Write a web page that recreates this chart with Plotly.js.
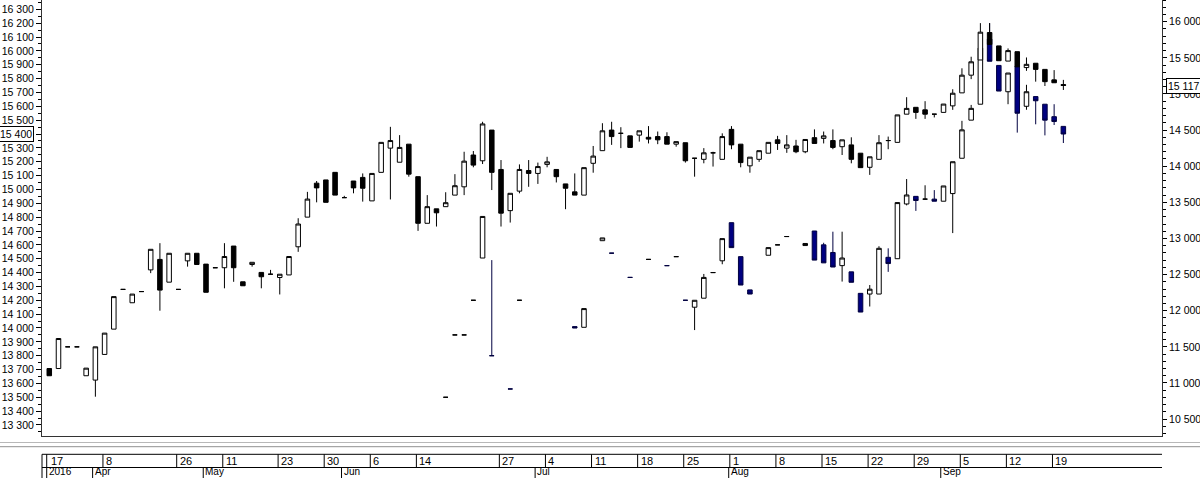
<!DOCTYPE html>
<html><head><meta charset="utf-8">
<script src="https://cdn.plot.ly/plotly-3.0.1.min.js"></script>
<style>html,body{margin:0;padding:0;background:#fff}#chart{width:1200px;height:478px}</style>
</head><body><div id="chart"></div>
<script>
// Series A (black down-candles) -> right axis; one entry per trading-day slot 0..110
const aOpen  = [11200,11200,11500,11500,11100,11040,11395,11745,12295,12110,12265,12565,12710,12395,12295,12690,12795,12645,12595,12595,12895,12400,12640,12530,12505,12460,12495,12885,13295,13765,13810,13915,13565,13795,13845,13520,13915,14250,14055,14305,13855,13210,13410,13440,13600,13715,14155,14075,14500,13955,13385,13655,13940,13900,14025,13955,13755,13645,13600,14040,14215,14500,14455,14420,14430,14400,14410,14410,14305,14325,14110,14095,14185,14095,14510,14305,14005,14095,14180,14365,14250,14280,14200,14395,14385,14355,14270,14295,14180,13985,14095,14355,14330,14720,14815,14780,14720,14745,14835,15015,15260,15470,15850,15665,15455,15585,15365,15425,15340,15195,15130];
const aHigh  = [11200,11615,11500,11500,11205,11500,11690,12195,12295,12230,12265,12850,12935,12795,12295,12795,12795,12645,12595,12935,12895,12400,12670,12530,12565,12505,12750,13280,13645,13795,13810,13915,13590,13795,13900,13900,14330,14545,14430,14305,13855,13600,13410,13640,13890,14200,14210,14615,14500,14085,13625,14025,14085,14050,14130,13955,13755,13900,13980,14280,14595,14615,14540,14420,14490,14555,14480,14470,14340,14325,14110,14250,14200,14455,14555,14305,14125,14215,14330,14420,14430,14365,14370,14510,14480,14510,14365,14400,14180,14130,14430,14410,14710,14955,14815,14900,14720,14860,15065,15355,15515,15980,15980,15665,15630,15585,15505,15425,15340,15330,15195];
const aLow   = [11100,11200,11500,11500,11100,10810,11395,11745,12295,12110,12265,12520,12000,12395,12295,12610,12640,12255,12595,12310,12400,12345,12610,12310,12505,12225,12495,12815,13295,13500,13500,13600,13565,13625,13510,13520,13915,13540,14055,13855,13105,13210,13165,13440,13600,13600,13985,14030,13670,13165,13220,13625,13715,13755,13985,13775,13405,13600,13600,13910,14215,14295,14250,14260,14340,14315,14305,14305,14270,14050,13855,14040,13995,14095,14235,13985,13910,14060,14180,14225,14185,14180,14180,14315,14315,14235,14155,14040,13980,13880,14095,14235,14330,14720,14655,14655,14675,14745,14780,15015,15205,15470,15685,15460,15455,15375,15320,15170,15110,15155,15055];
const aClose = [11100,11615,11500,11500,11205,11500,11690,12195,12295,12230,12265,12850,12285,12795,12295,12795,12640,12255,12595,12750,12595,12345,12670,12470,12505,12505,12750,13200,13545,13700,13500,13600,13565,13700,13695,13900,14330,14355,14260,13890,13210,13440,13355,13495,13730,14070,14015,14585,13915,13350,13625,13955,13900,13995,14060,13855,13695,13600,13980,14140,14490,14410,14455,14260,14490,14375,14365,14305,14340,14075,14110,14185,14185,14410,14295,14050,14125,14215,14330,14315,14295,14200,14370,14315,14420,14260,14365,14095,13980,14130,14325,14355,14710,14800,14745,14720,14720,14860,15010,15260,15445,15855,15685,15460,15600,15375,15410,15340,15170,15155,15117];

// Series B (navy down-candles) -> left axis; null = no trade that day
const N = null;
const bOpen  = [N,N,N,N,N,N,N,N,N,N,N,N,N,N,N,N,N,N,N,N,N,N,N,N,N,N,N,N,N,N,N,N,N,N,N,N,N,N,N,N,N,N,N,13500,13950,13950,14200,14505,13800,N,13560,14200,N,N,N,N,N,14010,14005,N,14630,14540,N,14365,N,14495,N,14450,14515,14200,14150,14215,14400,14485,14760,14515,14275,N,14525,14600,14660,N,14595,14700,14600,14545,14450,14405,14250,14245,14245,14510,14500,14895,14950,14930,14930,14915,14970,15225,15500,15615,16085,15895,15705,15890,15600,15670,15615,15525,15455];
const bHigh  = [N,N,N,N,N,N,N,N,N,N,N,N,N,N,N,N,N,N,N,N,N,N,N,N,N,N,N,N,N,N,N,N,N,N,N,N,N,N,N,N,N,N,N,13500,13950,13950,14200,14805,14490,N,13560,14200,N,N,N,N,N,14010,14140,N,14650,14540,N,14365,N,14495,N,14450,14515,14200,14200,14390,14400,14645,14760,14515,14275,N,14580,14600,14660,N,14610,14700,14615,14695,14695,14405,14250,14310,14590,14575,14905,15075,14950,15030,14995,15025,15200,15495,15610,16020,16200,15895,15840,15890,15755,15670,15615,15615,15455];
const bLow   = [N,N,N,N,N,N,N,N,N,N,N,N,N,N,N,N,N,N,N,N,N,N,N,N,N,N,N,N,N,N,N,N,N,N,N,N,N,N,N,N,N,N,N,13500,13950,13950,14200,14505,13800,N,13560,14200,N,N,N,N,N,14000,14005,N,14630,14540,N,14365,N,14495,N,14450,14515,14200,13985,14215,14400,14460,14580,14310,14245,N,14525,14600,14660,N,14595,14490,14470,14440,14335,14330,14115,14155,14245,14405,14500,14885,14845,14930,14915,14915,14685,15225,15500,15615,15925,15710,15615,15410,15575,15470,15390,15465,15335];
const bClose = [N,N,N,N,N,N,N,N,N,N,N,N,N,N,N,N,N,N,N,N,N,N,N,N,N,N,N,N,N,N,N,N,N,N,N,N,N,N,N,N,N,N,N,13500,13950,13950,14200,14805,13800,N,13560,14200,N,N,N,N,N,14000,14140,N,14650,14540,N,14365,N,14495,N,14450,14515,14200,14200,14365,14400,14645,14580,14310,14245,N,14580,14600,14660,N,14610,14490,14470,14440,14505,14330,14115,14280,14575,14465,14905,14960,14920,14930,14915,15025,15200,15430,15585,16020,15925,15710,15840,15550,15705,15640,15500,15490,15400];

// Date strip (slot index of each labelled day / month start)
const daySlots  = [0,6,14,19,25,30,35,40,49,54,59,64,69,74,79,84,89,94,99,104,109];
const dayText   = ['17','8','26','11','23','30','6','14','27','4','11','18','25','1','8','15','22','29','5','12','19'];
const monthSlots = [0,5,17,32,53,74,97];
const monthText  = ['2016','Apr','May','Jun','Jul','Aug','Sep'];

const lastA = 15117, lastB = 15400;

function pick(o,h,l,c){
  const x=[],O=[],H=[],L=[],C=[];
  for(let i=0;i<o.length;i++){ if(o[i]===null) continue; x.push(i);O.push(o[i]);H.push(h[i]);L.push(l[i]);C.push(c[i]); }
  return {x,O,H,L,C};
}
const A = pick(aOpen,aHigh,aLow,aClose);
const B = pick(bOpen,bHigh,bLow,bClose);

const FONT = {family:'"Liberation Sans",Arial,sans-serif', size:10.5, color:'#000'};
const SFONT = {family:'"Liberation Sans",Arial,sans-serif', size:11, color:'#000'};
const MFONT = {family:'"Liberation Sans",Arial,sans-serif', size:10, color:'#000'};

const traces = [
  {type:'candlestick', name:'B', x:B.x, open:B.O, high:B.H, low:B.L, close:B.C, yaxis:'y', xaxis:'x',
   increasing:{line:{color:'#000', width:1}, fillcolor:'#fff'},
   decreasing:{line:{color:'#000040', width:1}, fillcolor:'#000080'}, whiskerwidth:0, hoverinfo:'skip'},
  {type:'candlestick', name:'A', x:A.x, open:A.O, high:A.H, low:A.L, close:A.C, yaxis:'y2', xaxis:'x',
   increasing:{line:{color:'#000', width:1}, fillcolor:'#fff'},
   decreasing:{line:{color:'#000', width:1}, fillcolor:'#000'}, whiskerwidth:0, hoverinfo:'skip'}
];

const PH = 436; // plot height px
const py = p => (PH - p)/PH; // pixel-from-top -> paper
const shapes = [];
const ann = [];
// grey double rule under the plot
shapes.push({type:'line', xref:'paper', yref:'paper', x0:-0.04, x1:1.04, y0:py(442.5), y1:py(442.5), line:{color:'#b8b8b8', width:1}});
shapes.push({type:'line', xref:'paper', yref:'paper', x0:-0.04, x1:1.04, y0:py(446.7), y1:py(446.7), line:{color:'#909090', width:1}});
// date strip frame
shapes.push({type:'line', xref:'paper', yref:'paper', x0:0, x1:1, y0:py(454.3), y1:py(454.3), line:{color:'#000', width:1}});
shapes.push({type:'line', xref:'paper', yref:'paper', x0:0, x1:1, y0:py(467.5), y1:py(467.5), line:{color:'#000', width:1}});
shapes.push({type:'line', xref:'paper', yref:'paper', x0:0, x1:0, y0:py(454.3), y1:py(480), line:{color:'#000', width:1}});
shapes.push({type:'line', xref:'paper', yref:'paper', x0:0.0042, x1:0.0042, y0:py(454.3), y1:py(480), line:{color:'#000', width:1}});
daySlots.forEach((s,i)=>{
  if(s>0) shapes.push({type:'line', xref:'x', yref:'paper', x0:s-0.18, x1:s-0.18, y0:py(454.3), y1:py(467.5), line:{color:'#000', width:1}});
  ann.push({xref:'x', yref:'paper', x:s-0.18, y:py(461), xanchor:'left', yanchor:'middle', xshift:1, text:dayText[i], showarrow:false, font:SFONT});
});
monthSlots.forEach((s,i)=>{
  if(s>0) shapes.push({type:'line', xref:'x', yref:'paper', x0:s-0.3, x1:s-0.3, y0:py(467.5), y1:py(480), line:{color:'#000', width:1}});
  ann.push({xref:'x', yref:'paper', x:s-0.3, y:py(471.6), xanchor:'left', yanchor:'middle', xshift:1, borderpad:0, text:monthText[i], showarrow:false, font:MFONT});
});
// last-value boxes
ann.push({xref:'paper', yref:'y', x:-0.0069, y:lastB, xanchor:'right', yanchor:'middle', text:'15 400', showarrow:false,
  font:FONT, bgcolor:'#fff', bordercolor:'#000', borderwidth:1, borderpad:1});
ann.push({xref:'paper', yref:'y2', x:1.0036, y:lastA, xanchor:'left', yanchor:'middle', text:'15 117', showarrow:false,
  font:FONT, bgcolor:'#fff', bordercolor:'#000', borderwidth:1, borderpad:1});

const layout = {
  width:1200, height:478, margin:{l:42, r:38, t:0, b:42, pad:0},
  paper_bgcolor:'#fff', plot_bgcolor:'#fff', showlegend:false, separators:'. ',
  font:FONT,
  xaxis:{range:[-0.79,120.7], showticklabels:false, ticks:'', showgrid:false, zeroline:false,
         showline:true, linecolor:'#333', linewidth:1, rangeslider:{visible:false}, fixedrange:true},
  yaxis:{range:[13220.5,16367.1], tick0:13300, dtick:100, tickformat:',d', ticks:'outside', ticklen:5, tickwidth:1, tickcolor:'#000',
         minor:{dtick:50, ticks:'outside', ticklen:3, tickcolor:'#000'},
         showgrid:false, zeroline:false, showline:true, linecolor:'#333', linewidth:1, tickfont:FONT, fixedrange:true},
  yaxis2:{overlaying:'y', side:'right', range:[10266,16300.3], tick0:10500, dtick:500, tickformat:',d', ticks:'outside', ticklen:4, tickwidth:1, tickcolor:'#000',
         minor:{dtick:100, ticks:'outside', ticklen:3, tickcolor:'#000'},
         showgrid:false, zeroline:false, showline:true, linecolor:'#333', linewidth:1, tickfont:FONT, fixedrange:true},
  shapes:shapes, annotations:ann
};
Plotly.newPlot('chart', traces, layout, {staticPlot:true, displayModeBar:false});
</script></body></html>
